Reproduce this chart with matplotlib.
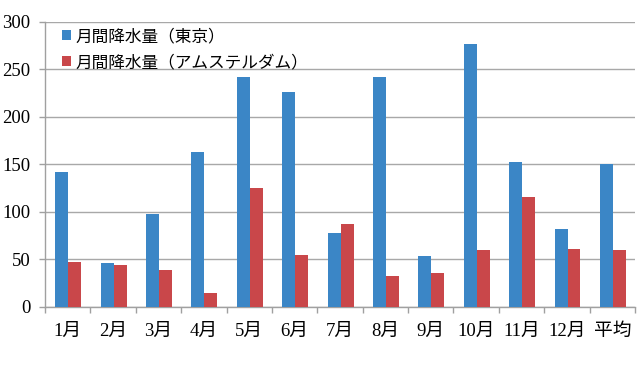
import matplotlib
matplotlib.use("Agg")
import matplotlib.pyplot as plt
import numpy as np

plt.rcParams['font.family'] = ['Liberation Serif', 'Noto Sans CJK JP', 'DejaVu Sans']

categories = ['1月', '2月', '3月', '4月', '5月', '6月', '7月', '8月', '9月', '10月', '11月', '12月', '平均']
tokyo = [142, 46, 98, 163, 242, 226, 78, 242, 53, 277, 152, 82, 150]
amsterdam = [47, 44, 39, 14, 125, 54, 87, 32, 36, 60, 116, 61, 60]
series_names = ['月間降水量（東京）', '月間降水量（アムステルダム）']
yticks = [0, 50, 100, 150, 200, 250, 300]

fig = plt.figure(figsize=(6.38, 3.67), dpi=100)
ax = fig.add_axes([45/638, 1-306.7/367, 590/638, (306.7-22)/367])

x = np.arange(len(categories))
w = 0.286
ax.bar(x - w/2 + 0.013, tokyo, width=w, color='#3b86c6', label=series_names[0], zorder=3)
ax.bar(x + w/2 + 0.013, amsterdam, width=w, color='#c9474a', label=series_names[1], zorder=3)

ax.set_xlim(-0.5, len(categories) - 0.5)
ax.set_ylim(0, 300)
ax.set_yticks(yticks)
ax.set_yticklabels([str(v) for v in yticks], fontsize=13.5)
ax.set_xticks(x)
ax.set_xticklabels(categories, fontsize=13.5)
ax.set_xticks(np.arange(len(categories) + 1) - 0.5, minor=True)
ax.tick_params(axis='x', which='major', length=0, pad=12)
ax.tick_params(axis='x', which='minor', length=4, color='#a0a0a0', width=1)
ax.tick_params(axis='y', length=4, color='#a0a0a0', width=1, pad=6.5)

ax.grid(axis='y', color='#a8a8a8', linewidth=1.0, zorder=0)
for s in ['top', 'right']:
    ax.spines[s].set_visible(False)
for s in ['left', 'bottom']:
    ax.spines[s].set_color('#a0a0a0')
    ax.spines[s].set_linewidth(1.0)

leg = ax.legend(loc='upper left', bbox_to_anchor=(0.015, 1.005), frameon=False,
                fontsize=12, handlelength=0.5, handleheight=0.5, handletextpad=0.3,
                labelspacing=0.6, borderaxespad=0.1)

fig.savefig('out.png', dpi=100)
